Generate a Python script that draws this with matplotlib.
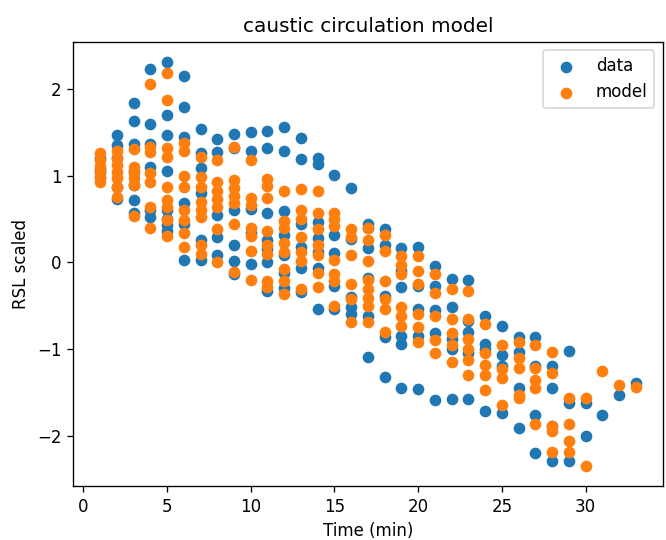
import matplotlib
matplotlib.use("Agg")
import matplotlib.pyplot as plt

# measured RSL (data) and model output, grouped by time step (min)
data_t = (
    [1] * 4 + [2] * 5 + [3] * 7 + [4] * 6 + [5] * 8 + [6] * 6 + [7] * 6 + [8] * 5
    + [9] * 6 + [10] * 5 + [11] * 7 + [12] * 7 + [13] * 6 + [14] * 7 + [15] * 5
    + [16] * 5 + [17] * 6 + [18] * 5 + [19] * 6 + [20] * 5 + [21] * 5 + [22] * 5
    + [23] * 5 + [24] * 4 + [25] * 4 + [26] * 4 + [27] * 4 + [28] * 4 + [29] * 3
    + [30] * 2 + [31] + [32] + [33]
)
data_rsl = [
    1.20, 1.08, 1.04, 0.98,
    1.47, 1.35, 1.21, 0.87, 0.73,
    1.84, 1.63, 1.37, 1.05, 0.89, 0.72, 0.57,
    2.23, 1.60, 1.37, 1.10, 0.60, 0.52,
    2.31, 1.70, 1.47, 1.05, 0.60, 0.50, 0.43, 0.36,
    2.15, 1.79, 1.45, 0.69, 0.44, 0.03,
    1.54, 1.26, 1.09, 0.80, 0.26, 0.03,
    1.42, 1.27, 0.55, 0.29, 0.09,
    1.48, 1.32, 0.60, 0.20, 0.01, -0.13,
    1.50, 1.29, 0.62, 0.34, -0.02,
    1.52, 1.32, 0.57, 0.26, 0.15, 0.00, -0.33,
    1.56, 1.29, 0.59, 0.32, 0.08, -0.12, -0.30,
    1.43, 1.19, 0.44, 0.18, -0.06, -0.34,
    1.20, 1.14, 0.47, 0.28, 0.12, -0.07, -0.54,
    1.01, 0.32, 0.11, -0.27, -0.54,
    0.86, 0.27, -0.40, -0.52, -0.60,
    0.44, 0.40, 0.17, -0.18, -0.62, -1.09,
    0.38, 0.20, -0.39, -0.86, -1.32,
    0.16, -0.10, -0.28, -0.85, -0.94, -1.45,
    0.18, -0.27, -0.54, -0.85, -1.46,
    -0.04, -0.27, -0.55, -0.82, -1.59,
    -0.19, -0.52, -0.88, -1.00, -1.58,
    -0.20, -0.68, -0.80, -1.05, -1.58,
    -0.62, -0.94, -1.00, -1.72,
    -0.73, -1.07, -1.20, -1.74,
    -0.86, -1.03, -1.45, -1.91,
    -0.86, -1.20, -1.76, -2.20,
    -1.20, -1.45, -1.89, -2.29,
    -1.02, -1.63, -2.30,
    -1.62, -2.00,
    -1.76,
    -1.53,
    -1.39,
]

model_t = (
    [1] * 6 + [2] * 7 + [3] * 6 + [4] * 7 + [5] * 9 + [6] * 8 + [7] * 8 + [8] * 7
    + [9] * 7 + [10] * 7 + [11] * 8 + [12] * 8 + [13] * 7 + [14] * 7 + [15] * 7
    + [16] * 6 + [17] * 8 + [18] * 6 + [19] * 6 + [20] * 6 + [21] * 5 + [22] * 5
    + [23] * 6 + [24] * 5 + [25] * 4 + [26] * 5 + [27] * 5 + [28] * 5 + [29] * 4
    + [30] * 2 + [31] + [32] + [33]
)
model_rsl = [
    1.26, 1.18, 1.11, 1.04, 0.97, 0.93,
    1.28, 1.20, 1.12, 1.04, 0.97, 0.87, 0.76,
    1.31, 1.10, 1.03, 0.97, 0.89, 0.53,
    2.06, 1.33, 1.27, 1.03, 0.93, 0.64, 0.40,
    2.19, 1.87, 1.32, 1.22, 0.87, 0.72, 0.64, 0.49, 0.30,
    1.38, 1.29, 1.00, 0.87, 0.60, 0.49, 0.34, 0.18,
    1.22, 0.99, 0.87, 0.70, 0.61, 0.52, 0.20, 0.10,
    1.18, 0.93, 0.82, 0.73, 0.64, 0.38, 0.00,
    1.33, 0.95, 0.86, 0.77, 0.68, 0.44, -0.11,
    1.18, 0.74, 0.66, 0.40, 0.30, 0.13, -0.20,
    0.96, 0.88, 0.74, 0.36, 0.20, 0.10, -0.22, -0.28,
    0.82, 0.48, 0.40, 0.22, 0.12, -0.08, -0.21, -0.37,
    0.85, 0.60, 0.50, 0.29, 0.12, 0.02, -0.31,
    0.82, 0.57, 0.38, 0.20, 0.08, -0.12, -0.29,
    0.57, 0.50, 0.42, 0.03, -0.14, -0.22, -0.50,
    0.38, 0.29, 0.09, -0.25, -0.42, -0.69,
    0.40, 0.26, 0.01, -0.20, -0.31, -0.41, -0.50, -0.69,
    0.32, 0.13, -0.22, -0.42, -0.54, -0.80,
    0.07, -0.03, -0.14, -0.52, -0.62, -0.73,
    0.07, -0.10, -0.25, -0.60, -0.75, -0.92,
    -0.14, -0.35, -0.62, -0.90, -1.05,
    -0.31, -0.65, -0.82, -0.96, -1.15,
    -0.33, -0.65, -0.88, -1.00, -1.13, -1.30,
    -0.71, -1.05, -1.18, -1.30, -1.48,
    -0.96, -1.23, -1.34, -1.65,
    -0.92, -1.11, -1.22, -1.53, -1.57,
    -0.95, -1.22, -1.36, -1.45, -1.87,
    -1.03, -1.28, -1.89, -1.95, -2.19,
    -1.57, -1.87, -2.06, -2.19,
    -1.57, -2.35,
    -1.26,
    -1.42,
    -1.44,
]

fig = plt.figure(figsize=(5.55, 4.5), dpi=120)
ax = fig.add_axes([0.11, 0.1, 0.885, 0.822])

ax.scatter(data_t, data_rsl, label="data")
ax.scatter(model_t, model_rsl, label="model")

ax.set_title("caustic circulation model")
ax.set_xlabel("Time (min)")
ax.set_ylabel("RSL scaled")
ax.legend(loc="upper right")

fig.savefig("out.png", dpi=120)
